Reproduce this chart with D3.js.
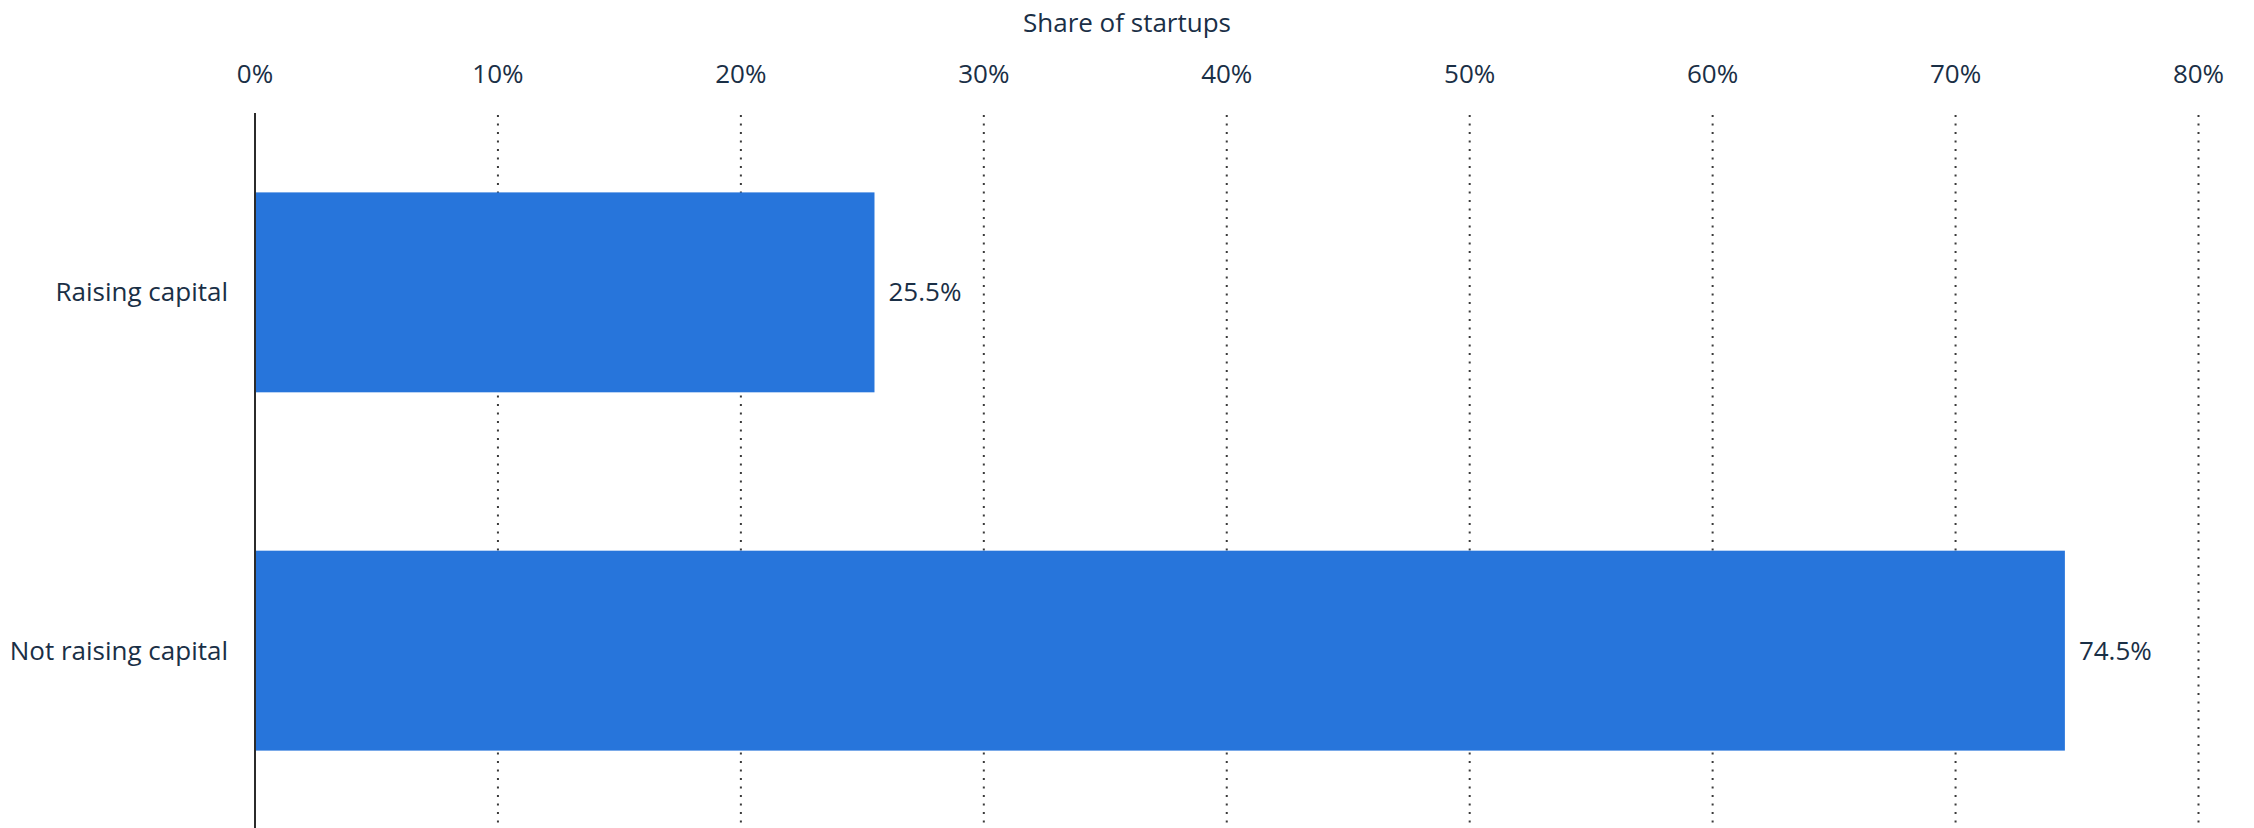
<!DOCTYPE html>
<html>
<head>
<meta charset="utf-8">
<script src="https://cdn.jsdelivr.net/npm/d3@7"></script>
<style>
  html, body { margin: 0; padding: 0; background: #ffffff; }
  svg { display: block; }
  text { font-family: "Open Sans", "Noto Sans", sans-serif; fill: #1a2f46; }
</style>
</head>
<body>
<svg id="chart" width="2254" height="828"></svg>
<script>
// Survey result: share of startups currently raising capital
const categories = ["Raising capital", "Not raising capital"];
const shares = [25.5, 74.5];
const tickValues = [0, 10, 20, 30, 40, 50, 60, 70, 80];
const tickLabels = ["0%", "10%", "20%", "30%", "40%", "50%", "60%", "70%", "80%"];
const axisTitle = "Share of startups";

const W = 2254, H = 828;
const plotLeft = 255, plotRight = 2198.5;
const plotTop = 115, plotBottom = 828;
const fontSize = 26;

const svg = d3.select("#chart");

const x = d3.scaleLinear().domain([0, 80]).range([plotLeft, plotRight]);
const y = d3.scaleBand()
  .domain(categories)
  .range([plotTop, plotBottom])
  .paddingInner(0.442)
  .paddingOuter(0.216);

// Axis title, centred on the canvas
svg.append("text")
  .attr("x", W / 2)
  .attr("y", 32)
  .attr("text-anchor", "middle")
  .style("font-size", fontSize + "px")
  .text(axisTitle);

// Top tick labels
svg.append("g")
  .selectAll("text")
  .data(tickValues)
  .join("text")
  .attr("x", d => x(d))
  .attr("y", 83)
  .attr("text-anchor", "middle")
  .style("font-size", fontSize + "px")
  .text((d, i) => tickLabels[i]);

// Dotted vertical gridlines (behind the bars)
svg.append("g")
  .selectAll("line")
  .data(tickValues.filter(d => d > 0))
  .join("line")
  .attr("x1", d => x(d))
  .attr("x2", d => x(d))
  .attr("y1", plotTop)
  .attr("y2", plotBottom)
  .attr("stroke", "#3a3a3a")
  .attr("stroke-width", 2)
  .attr("stroke-dasharray", "2 6.5");

// Bars
svg.append("g")
  .selectAll("rect")
  .data(categories)
  .join("rect")
  .attr("x", x(0))
  .attr("y", d => y(d))
  .attr("width", (d, i) => x(shares[i]) - x(0))
  .attr("height", y.bandwidth())
  .attr("fill", "#2775db");

// Baseline at 0%
svg.append("line")
  .attr("x1", x(0))
  .attr("x2", x(0))
  .attr("y1", plotTop - 2)
  .attr("y2", plotBottom)
  .attr("stroke", "#2b2b2b")
  .attr("stroke-width", 2);

// Category labels
svg.append("g")
  .selectAll("text")
  .data(categories)
  .join("text")
  .attr("x", x(0) - 27)
  .attr("y", d => y(d) + y.bandwidth() / 2)
  .attr("dy", "0.35em")
  .attr("text-anchor", "end")
  .style("font-size", fontSize + "px")
  .text(d => d);

// Value labels
svg.append("g")
  .selectAll("text")
  .data(categories)
  .join("text")
  .attr("x", (d, i) => x(shares[i]) + 14)
  .attr("y", d => y(d) + y.bandwidth() / 2)
  .attr("dy", "0.35em")
  .attr("text-anchor", "start")
  .style("font-size", fontSize + "px")
  .text((d, i) => shares[i].toFixed(1) + "%");
</script>
</body>
</html>
